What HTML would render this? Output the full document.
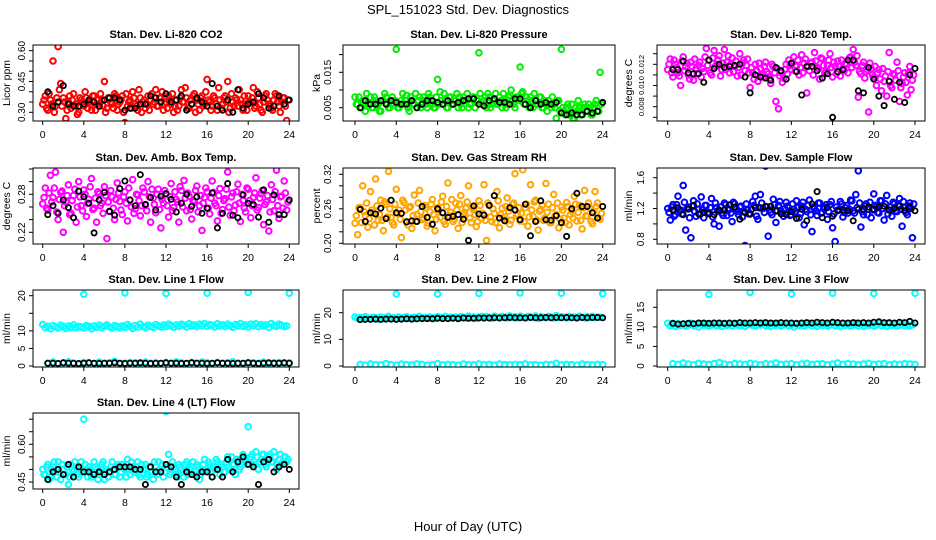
<!DOCTYPE html>
<html><head><meta charset="utf-8">
<style>
html,body{margin:0;padding:0;background:#fff;}
svg{display:block;font-family:"Liberation Sans",Helvetica,Arial,sans-serif;}
</style></head>
<body>
<svg id="chart" width="936" height="540" viewBox="0 0 936 540" xmlns="http://www.w3.org/2000/svg">
<rect x="0" y="0" width="936" height="540" fill="#fff"/>
<text x="468" y="14" text-anchor="middle" font-size="13">SPL_151023  Std. Dev. Diagnostics</text>
<text x="468" y="531" text-anchor="middle" font-size="13">Hour of Day (UTC)</text>
</svg>
<script>
// ---------- data ----------
const co2Colored=[0.34,0.38,0.31,0.36,0.55,0.33,0.62,0.44,0.37,0.27,0.35,0.32,0.39,0.34,0.30,0.36,0.33,0.37,0.35,0.31,0.38,0.34,0.33,0.36,0.45,0.32,0.37,0.34,0.39,0.31,0.35,0.38,0.25,0.33,0.36,0.40,0.34,0.31,0.37,0.35,0.32,0.38,0.36,0.34,0.41,0.33,0.37,0.31,0.35,0.38,0.34,0.30,0.36,0.33,0.41,0.35,0.37,0.32,0.34,0.39,0.36,0.31,0.38,0.34,0.46,0.35,0.33,0.37,0.31,0.36,0.34,0.38,0.45,0.32,0.35,0.37,0.33,0.36,0.31,0.34,0.38,0.35,0.42,0.33,0.37,0.31,0.35,0.39,0.34,0.32,0.36,0.38,0.33,0.35,0.37,0.26];
const co2ColoredB=[0.36,0.32,0.39,0.34,0.30,0.37,0.41,0.33,0.35,0.31,0.38,0.36,0.33,0.29,0.37,0.35,0.40,0.32,0.34,0.38,0.31,0.36,0.39,0.33,0.30,0.37,0.35,0.32,0.38,0.34,0.36,0.30,0.39,0.35,0.32,0.37,0.33,0.41,0.30,0.36,0.34,0.31,0.39,0.35,0.33,0.37,0.40,0.34,0.32,0.36,0.39,0.33,0.31,0.37,0.35,0.42,0.32,0.36,0.38,0.30,0.34,0.37,0.33,0.40,0.36,0.31,0.38,0.34,0.42,0.32,0.37,0.35,0.30,0.39,0.33,0.36,0.41,0.34,0.38,0.31,0.35,0.37,0.32,0.40,0.34,0.30,0.38,0.36,0.33,0.31,0.39,0.35,0.30,0.37,0.33,0.36];
const co2Black=[0.40,0.33,0.35,0.43,0.34,0.33,0.33,0.34,0.36,0.35,0.33,0.36,0.37,0.37,0.36,0.31,0.32,0.32,0.34,0.34,0.38,0.37,0.35,0.39,0.35,0.36,0.38,0.31,0.34,0.37,0.35,0.33,0.44,0.33,0.31,0.36,0.30,0.41,0.32,0.34,0.35,0.39,0.37,0.32,0.33,0.38,0.34,0.36];
const presColored=[0.008,0.006,0.005,0.007,0.004,0.006,0.008,0.005,0.007,0.006,0.004,0.007,0.008,0.005,0.006,0.007,0.0215,0.005,0.007,0.006,0.0085,0.004,0.007,0.006,0.005,0.008,0.006,0.007,0.005,0.008,0.006,0.005,0.013,0.0095,0.006,0.007,0.005,0.008,0.006,0.007,0.005,0.006,0.008,0.007,0.005,0.006,0.008,0.007,0.0205,0.006,0.007,0.005,0.008,0.006,0.007,0.006,0.008,0.005,0.007,0.006,0.0085,0.007,0.005,0.008,0.0165,0.0095,0.006,0.007,0.008,0.005,0.007,0.006,0.008,0.005,0.006,0.007,0.005,0.006,0.002,0.007,0.0215,0.004,0.005,0.003,0.006,0.0015,0.004,0.005,0.003,0.006,0.004,0.005,0.003,0.006,0.004,0.015];
const presColoredB=[0.006,0.008,0.005,0.007,0.009,0.006,0.005,0.008,0.006,0.004,0.007,0.009,0.006,0.005,0.008,0.007,0.005,0.006,0.009,0.007,0.005,0.008,0.006,0.009,0.007,0.005,0.008,0.006,0.009,0.007,0.005,0.008,0.006,0.007,0.009,0.005,0.008,0.006,0.007,0.009,0.008,0.005,0.007,0.009,0.006,0.008,0.005,0.007,0.009,0.006,0.008,0.009,0.005,0.007,0.009,0.006,0.007,0.009,0.005,0.008,0.010,0.006,0.008,0.007,0.009,0.006,0.008,0.005,0.007,0.009,0.006,0.008,0.005,0.007,0.004,0.006,0.008,0.005,0.007,0.004,0.005,0.003,0.006,0.004,0.002,0.005,0.007,0.003,0.005,0.004,0.006,0.003,0.005,0.007,0.004,0.006];
const presBlack=[0.005,0.007,0.006,0.006,0.007,0.006,0.007,0.0065,0.006,0.006,0.007,0.005,0.006,0.007,0.007,0.0065,0.006,0.007,0.006,0.0065,0.007,0.0075,0.0075,0.006,0.0055,0.007,0.0075,0.0065,0.0065,0.006,0.0075,0.0075,0.006,0.005,0.007,0.006,0.0065,0.006,0.0065,0.0035,0.003,0.0035,0.003,0.003,0.004,0.0035,0.004,0.0065];
const tempColored=[0.0115,0.0125,0.0108,0.0120,0.0112,0.0100,0.0127,0.0118,0.0110,0.0122,0.0105,0.0116,0.0119,0.0108,0.0113,0.0135,0.0124,0.0110,0.0133,0.0120,0.0128,0.0115,0.0134,0.0122,0.0112,0.0126,0.0118,0.0109,0.0130,0.0121,0.0114,0.0125,0.0098,0.0112,0.0120,0.0104,0.0116,0.0108,0.0122,0.0111,0.0102,0.0118,0.0085,0.0078,0.0112,0.0107,0.0120,0.0124,0.0115,0.0127,0.0118,0.0110,0.0129,0.0121,0.0093,0.0114,0.0122,0.0131,0.0117,0.0106,0.0125,0.0112,0.0119,0.0130,0.0108,0.0118,0.0123,0.0109,0.0116,0.0121,0.0112,0.0127,0.0134,0.0119,0.0089,0.0111,0.0122,0.0113,0.0075,0.0116,0.0108,0.0100,0.0115,0.0095,0.0104,0.0090,0.0131,0.0098,0.0110,0.0122,0.0085,0.0102,0.0112,0.0091,0.0118,0.0105];
const tempColoredB=[0.0120,0.0112,0.0124,0.0117,0.0109,0.0123,0.0114,0.0121,0.0106,0.0118,0.0125,0.0111,0.0122,0.0116,0.0127,0.0119,0.0112,0.0126,0.0118,0.0124,0.0109,0.0121,0.0115,0.0128,0.0120,0.0113,0.0123,0.0117,0.0110,0.0124,0.0119,0.0112,0.0117,0.0106,0.0114,0.0121,0.0110,0.0118,0.0113,0.0107,0.0120,0.0112,0.0116,0.0109,0.0103,0.0115,0.0111,0.0119,0.0122,0.0114,0.0124,0.0117,0.0112,0.0125,0.0118,0.0121,0.0110,0.0123,0.0116,0.0126,0.0119,0.0113,0.0124,0.0117,0.0122,0.0111,0.0118,0.0124,0.0114,0.0120,0.0126,0.0117,0.0122,0.0128,0.0113,0.0119,0.0107,0.0115,0.0121,0.0110,0.0118,0.0112,0.0106,0.0116,0.0109,0.0113,0.0100,0.0111,0.0105,0.0114,0.0098,0.0108,0.0103,0.0112,0.0096,0.0110];
const tempBlack=[0.0115,0.0115,0.0123,0.0112,0.0111,0.0111,0.0103,0.0124,0.0116,0.0120,0.0117,0.0118,0.0119,0.0120,0.0108,0.0093,0.0110,0.0108,0.0107,0.0105,0.0117,0.0114,0.0106,0.0121,0.0113,0.0091,0.0118,0.0118,0.0114,0.0107,0.0111,0.0070,0.0113,0.0115,0.0124,0.0124,0.0095,0.0093,0.0117,0.0106,0.0090,0.0081,0.0104,0.0087,0.0103,0.0084,0.0110,0.0116];
const ambColored=[0.265,0.290,0.255,0.310,0.275,0.315,0.240,0.283,0.220,0.268,0.295,0.250,0.278,0.236,0.300,0.262,0.287,0.245,0.272,0.305,0.258,0.236,0.281,0.266,0.292,0.210,0.253,0.276,0.240,0.298,0.269,0.248,0.284,0.238,0.271,0.303,0.257,0.279,0.246,0.290,0.263,0.300,0.236,0.274,0.251,0.288,0.227,0.266,0.281,0.244,0.297,0.259,0.272,0.236,0.286,0.302,0.254,0.277,0.241,0.268,0.293,0.262,0.223,0.275,0.284,0.249,0.301,0.266,0.238,0.289,0.256,0.273,0.315,0.247,0.282,0.263,0.296,0.237,0.270,0.252,0.288,0.243,0.275,0.306,0.259,0.281,0.232,0.268,0.222,0.295,0.254,0.318,0.242,0.277,0.301,0.255];
const ambColoredB=[0.275,0.258,0.282,0.268,0.290,0.252,0.272,0.285,0.262,0.278,0.248,0.270,0.288,0.260,0.276,0.254,0.280,0.266,0.292,0.256,0.274,0.284,0.262,0.250,0.278,0.268,0.286,0.258,0.272,0.282,0.255,0.276,0.266,0.290,0.260,0.250,0.280,0.270,0.262,0.284,0.254,0.276,0.288,0.264,0.280,0.256,0.272,0.286,0.262,0.276,0.254,0.284,0.268,0.292,0.260,0.274,0.282,0.256,0.270,0.286,0.252,0.278,0.266,0.290,0.258,0.274,0.283,0.262,0.278,0.250,0.270,0.288,0.260,0.276,0.254,0.284,0.266,0.280,0.258,0.290,0.270,0.262,0.282,0.255,0.274,0.286,0.264,0.278,0.252,0.272,0.284,0.262,0.276,0.258,0.282,0.268];
const ambBlack=[0.248,0.262,0.250,0.271,0.259,0.243,0.285,0.276,0.266,0.219,0.271,0.283,0.253,0.247,0.289,0.301,0.271,0.262,0.311,0.264,0.275,0.255,0.277,0.281,0.272,0.252,0.266,0.280,0.261,0.276,0.250,0.258,0.282,0.227,0.250,0.297,0.247,0.243,0.279,0.266,0.264,0.244,0.287,0.236,0.279,0.248,0.248,0.271];
const rhColored=[0.235,0.215,0.262,0.300,0.248,0.228,0.290,0.253,0.312,0.240,0.275,0.222,0.268,0.325,0.245,0.232,0.294,0.258,0.210,0.271,0.238,0.262,0.226,0.284,0.250,0.292,0.241,0.266,0.230,0.255,0.276,0.222,0.262,0.245,0.282,0.233,0.305,0.254,0.238,0.270,0.226,0.283,0.249,0.261,0.300,0.236,0.258,0.229,0.274,0.243,0.302,0.205,0.266,0.238,0.252,0.290,0.227,0.261,0.246,0.279,0.233,0.268,0.321,0.251,0.239,0.328,0.262,0.230,0.302,0.247,0.275,0.223,0.259,0.240,0.304,0.268,0.236,0.285,0.250,0.227,0.263,0.244,0.271,0.232,0.256,0.282,0.239,0.266,0.225,0.292,0.247,0.261,0.234,0.290,0.270,0.242];
const rhColoredB=[0.248,0.262,0.236,0.255,0.270,0.243,0.258,0.232,0.265,0.250,0.240,0.272,0.246,0.260,0.236,0.268,0.252,0.242,0.275,0.258,0.232,0.264,0.248,0.238,0.270,0.255,0.244,0.262,0.235,0.268,0.250,0.242,0.258,0.272,0.238,0.264,0.248,0.276,0.242,0.258,0.268,0.236,0.254,0.272,0.244,0.262,0.250,0.238,0.266,0.252,0.240,0.270,0.246,0.260,0.236,0.274,0.250,0.242,0.264,0.256,0.240,0.270,0.248,0.262,0.252,0.238,0.268,0.246,0.258,0.272,0.240,0.256,0.266,0.244,0.254,0.236,0.262,0.248,0.270,0.242,0.258,0.236,0.264,0.250,0.244,0.268,0.254,0.240,0.262,0.248,0.270,0.238,0.256,0.264,0.244,0.252];
const rhBlack=[0.259,0.238,0.253,0.251,0.261,0.243,0.275,0.253,0.252,0.237,0.239,0.238,0.264,0.245,0.233,0.260,0.253,0.245,0.247,0.250,0.242,0.205,0.265,0.251,0.249,0.266,0.283,0.244,0.239,0.262,0.258,0.241,0.268,0.213,0.238,0.274,0.241,0.240,0.248,0.236,0.212,0.260,0.287,0.264,0.264,0.253,0.244,0.264];
const sampleColored=[1.20,1.05,1.25,1.12,1.36,1.18,1.50,0.92,1.22,0.82,1.30,1.10,1.19,1.35,1.08,1.24,1.15,1.33,1.00,1.21,0.97,1.14,1.27,1.11,1.19,1.03,1.26,1.16,1.22,1.09,0.72,1.18,1.13,1.29,1.36,1.06,1.38,1.20,1.75,0.84,1.15,1.32,1.02,1.24,1.17,1.10,1.28,1.21,1.12,1.19,1.30,1.08,1.23,0.99,1.16,1.31,0.90,1.20,1.11,1.27,1.15,1.22,1.06,1.25,0.95,0.77,1.18,1.29,1.09,1.21,1.14,1.31,1.17,1.38,1.69,0.96,1.12,1.26,1.19,1.08,1.39,1.22,1.14,1.30,1.05,1.37,1.18,1.10,1.26,1.16,1.33,0.97,1.21,1.12,1.27,0.82];
const sampleColoredB=[1.15,1.22,1.10,1.25,1.18,1.13,1.28,1.20,1.08,1.23,1.16,1.26,1.12,1.19,1.24,1.14,1.21,1.09,1.27,1.17,1.22,1.11,1.25,1.18,1.14,1.28,1.20,1.12,1.23,1.16,1.26,1.13,1.19,1.24,1.10,1.21,1.27,1.15,1.22,1.18,1.12,1.25,1.17,1.29,1.14,1.20,1.23,1.11,1.26,1.16,1.21,1.13,1.28,1.19,1.24,1.12,1.22,1.17,1.27,1.14,1.20,1.25,1.16,1.29,1.13,1.22,1.18,1.26,1.15,1.24,1.19,1.30,1.14,1.21,1.27,1.16,1.23,1.12,1.28,1.18,1.24,1.15,1.30,1.20,1.26,1.13,1.22,1.28,1.17,1.24,1.19,1.29,1.15,1.23,1.20,1.26];
const sampleBlack=[1.18,1.21,1.12,1.19,1.24,1.13,1.15,1.13,1.12,1.18,1.18,1.25,1.22,1.06,1.15,1.13,1.21,1.21,1.23,1.23,1.17,1.13,1.12,1.16,1.07,1.19,1.04,1.26,1.42,1.08,1.21,1.10,1.17,1.18,1.17,1.04,1.19,1.19,1.22,1.19,1.22,1.23,1.18,1.20,1.23,1.17,1.22,1.17];
const line1High=[11.8,10.9,11.3,10.6,11.5,11.1,10.8,11.6,11.2,10.7,11.4,11.0,11.7,10.9,11.3,11.1,10.8,11.5,11.2,10.6,11.4,11.0,11.6,10.9,11.3,11.7,11.1,10.8,11.5,11.2,10.9,11.4,11.0,11.8,11.3,10.7,11.5,11.1,11.9,11.2,10.9,11.6,11.3,11.0,11.8,11.4,11.1,11.7,11.2,11.9,11.5,11.0,11.7,11.3,11.9,11.6,11.1,12.0,11.4,11.7,11.2,11.9,11.5,12.1,11.3,11.8,11.6,11.1,12.0,11.4,11.7,11.2,11.9,11.5,11.0,11.8,11.4,12.1,11.3,11.7,11.1,11.9,11.5,12.0,11.2,11.8,11.4,11.7,11.0,12.1,11.5,11.3,11.9,11.6,11.2,11.4];
const line1Low=[0.8,1.1,0.7,0.9,1.2,0.8,0.6,1.0,0.9,0.7,1.1,0.8,0.9,1.3,0.7,0.8,1.0,0.9,0.6,1.1,0.8,0.9,0.7,1.0,0.8,1.2,0.9,0.7,1.0,0.8,1.1,0.9,0.7,1.0,0.8,0.9,1.2,0.8,0.7,1.0,0.9,0.8,1.1,0.7,0.9,1.0,0.8,0.9];
const line1Black=[0.8,0.8,0.7,0.9,0.8,0.8,0.7,0.8,0.9,0.8,0.7,0.8,0.8,0.9,0.8,0.7,0.8,0.8,0.9,0.8,0.7,0.8,0.8,0.9,0.8,0.8,0.7,0.8,0.9,0.8,0.8,0.7,0.8,0.9,0.8,0.8,0.7,0.8,0.8,0.9,0.8,0.7,0.8,0.9,0.8,0.8,0.9,0.8];
const line2High=[18.4,17.9,18.2,17.7,18.5,18.0,17.8,18.3,18.1,17.6,18.4,17.9,18.2,18.6,17.8,18.1,18.0,18.4,17.7,18.2,18.5,17.9,18.1,18.3,17.8,18.6,18.0,18.2,17.9,18.4,18.1,17.8,18.5,18.2,18.0,18.6,17.9,18.3,18.1,18.4,17.8,18.5,18.2,18.0,18.7,18.1,18.4,17.9,18.3,18.6,18.0,18.5,18.2,17.9,18.7,18.3,18.1,18.6,18.4,18.0,18.8,18.2,18.5,18.1,18.7,18.3,18.0,18.6,18.4,18.2,18.8,17.9,18.5,18.3,18.1,18.6,18.4,18.0,18.9,18.2,18.5,18.3,18.0,18.6,18.2,18.4,18.1,18.7,18.3,18.0,18.5,18.2,18.6,18.1,18.4,18.3];
const line2Low=[0.6,0.3,0.8,0.5,0.4,0.9,0.5,0.3,0.7,0.5,0.4,0.8,0.6,0.3,0.5,0.9,0.4,0.6,0.5,0.3,0.7,0.5,0.4,0.8,0.5,0.6,0.3,0.7,0.5,0.4,0.6,0.5,0.8,0.4,0.5,0.3,0.6,0.5,1.0,0.4,0.6,0.5,0.3,0.7,0.5,0.4,0.6,0.5];
const line2Black=[17.4,17.5,17.5,17.6,17.5,17.6,17.6,17.5,17.6,17.7,17.6,17.7,17.8,17.8,17.7,17.9,17.8,17.8,17.9,17.8,18.0,17.9,17.9,18.0,18.0,18.0,18.1,18.0,18.1,18.2,18.1,18.1,18.0,18.2,18.1,18.1,18.2,18.1,18.2,18.1,18.2,18.1,18.0,18.2,18.1,18.2,18.2,18.1];
const line3High=[10.9,10.3,10.6,10.1,10.8,10.4,10.7,10.2,10.5,10.9,10.3,10.6,10.0,10.8,10.4,10.7,10.2,10.5,10.9,10.3,10.6,10.1,10.8,10.4,10.6,10.2,10.9,10.5,10.3,10.7,10.1,10.6,10.8,10.4,10.2,10.7,10.5,10.9,10.3,10.6,10.1,10.8,10.4,10.7,10.2,10.5,10.9,10.3,10.6,10.0,10.8,10.4,10.7,10.2,10.5,10.9,10.3,10.6,10.1,10.8,10.4,10.7,10.2,10.5,10.9,10.3,10.6,10.1,10.8,10.4,10.7,10.2,10.5,11.0,10.3,10.6,10.1,10.8,10.4,10.7,10.2,10.5,10.9,10.3,10.6,10.1,10.8,10.4,10.7,10.2,10.5,10.9,10.3,10.6,10.2,10.5];
const line3Low=[0.6,0.4,0.8,0.5,0.3,0.7,0.5,0.4,0.6,0.9,0.5,0.3,0.6,0.5,0.4,0.7,0.5,0.3,0.6,0.5,0.8,0.4,0.5,0.6,0.3,0.5,0.7,0.4,0.5,0.6,0.3,0.5,0.8,0.4,0.6,0.5,0.3,0.5,0.7,0.4,0.5,0.6,0.3,0.5,0.4,0.6,0.5,0.4];
const line3Black=[10.9,10.7,10.8,10.9,10.8,11.0,11.0,10.9,11.0,11.0,10.9,11.0,10.9,11.1,11.0,11.0,11.1,11.0,11.1,11.0,11.0,11.1,11.0,11.0,10.9,11.0,11.1,11.0,11.2,11.1,11.0,11.2,11.1,11.0,11.0,11.1,11.0,11.1,11.0,11.2,11.3,11.1,11.1,11.0,11.2,11.1,11.4,11.0];
const line4Colored=[0.50,0.48,0.52,0.47,0.51,0.49,0.53,0.46,0.50,0.48,0.44,0.52,0.49,0.51,0.47,0.53,0.70,0.49,0.51,0.47,0.53,0.50,0.48,0.52,0.46,0.50,0.49,0.53,0.48,0.51,0.47,0.52,0.50,0.54,0.48,0.51,0.49,0.53,0.47,0.50,0.52,0.48,0.51,0.46,0.49,0.53,0.50,0.47,0.73,0.56,0.49,0.51,0.48,0.52,0.50,0.47,0.53,0.49,0.51,0.48,0.52,0.46,0.50,0.54,0.49,0.52,0.47,0.50,0.53,0.48,0.51,0.49,0.55,0.50,0.52,0.48,0.54,0.51,0.56,0.53,0.67,0.55,0.52,0.57,0.50,0.54,0.56,0.51,0.55,0.53,0.57,0.50,0.54,0.52,0.55,0.53];
const line4ColoredB=[0.48,0.51,0.46,0.50,0.53,0.47,0.49,0.52,0.48,0.51,0.47,0.50,0.53,0.48,0.51,0.49,0.52,0.47,0.50,0.48,0.51,0.46,0.50,0.53,0.49,0.47,0.51,0.50,0.48,0.52,0.49,0.51,0.47,0.50,0.53,0.49,0.51,0.48,0.52,0.50,0.47,0.51,0.49,0.53,0.48,0.50,0.52,0.49,0.51,0.48,0.53,0.50,0.47,0.51,0.49,0.52,0.48,0.50,0.53,0.49,0.51,0.48,0.52,0.50,0.53,0.49,0.51,0.54,0.50,0.52,0.49,0.53,0.51,0.55,0.52,0.54,0.50,0.53,0.55,0.52,0.54,0.56,0.52,0.55,0.53,0.56,0.52,0.54,0.56,0.53,0.55,0.52,0.56,0.53,0.55,0.54];
const line4Black=[0.46,0.49,0.50,0.48,0.52,0.47,0.51,0.49,0.49,0.48,0.49,0.48,0.49,0.50,0.51,0.51,0.51,0.50,0.50,0.44,0.51,0.49,0.49,0.52,0.51,0.47,0.44,0.49,0.48,0.47,0.49,0.49,0.47,0.50,0.47,0.54,0.49,0.53,0.55,0.52,0.51,0.44,0.53,0.54,0.49,0.51,0.52,0.50];
const outlierHours=[4,8,12,16,20,24];
const line1Outliers=[20.4,20.8,20.6,20.7,20.9,20.7];
const line2Outliers=[27.0,27.0,27.2,27.4,27.3,27.1];
const line3Outliers=[18.3,18.8,18.4,18.6,18.5,18.6];
const xTicks=[0,4,8,12,16,20,24];
const co2Ticks=[0.30,0.35,0.40,0.45,0.50,0.55,0.60], co2Labels=["0.30","0.45","0.60"];
const presTicks=[0.005,0.010,0.015,0.020], presLabels=["0.005","0.015"];
const tempTicks=[0.007,0.008,0.009,0.010,0.011,0.012,0.013], tempLabels=["0.008","0.010","0.012"];
const ambTicks=[0.22,0.24,0.26,0.28,0.30,0.32], ambLabels=["0.22","0.28"];
const rhTicks=[0.20,0.22,0.24,0.26,0.28,0.30,0.32], rhLabels=["0.20","0.26","0.32"];
const sampleTicks=[0.8,1.0,1.2,1.4,1.6], sampleLabels=["0.8","1.2","1.6"];
const line1Ticks=[0,5,10,15,20], line1Labels=["0","5","10","20"];
const line2Ticks=[0,10,20], line2Labels=["0","10","20"];
const line3Ticks=[0,5,10,15], line3Labels=["0","5","10","15"];
const line4Ticks=[0.45,0.50,0.55,0.60,0.65,0.70], line4Labels=["0.45","0.60"];

// ---------- drawing ----------
const NS="http://www.w3.org/2000/svg";
const svg=document.getElementById('chart');
function mk(tag,attrs,parent){const e=document.createElementNS(NS,tag);for(const k in attrs)e.setAttribute(k,attrs[k]);(parent||svg).appendChild(e);return e;}
const hours96=[];for(let i=0;i<96;i++)hours96.push(i*0.25);
const hours96B=[];for(let i=0;i<96;i++)hours96B.push(i*0.25+0.125);
const hours48=[];for(let i=0;i<48;i++)hours48.push(0.5+i*0.5);

const cols=[{bx0:33,bx1:299,h0:42.7,h24:289.3,lab:25,ylab:10},
            {bx0:343,bx1:615,h0:355,h24:602.7,lab:331,ylab:320},
            {bx0:657,bx1:925,h0:667.7,h24:915,lab:644,ylab:632}];
const rows=[{top:45,bot:121},{top:168,bot:244},{top:290,bot:367},{top:413,bot:489}];

function panel(name,title,ylab,col,row,v1,p1,v2,p2,ticks,labels,series,lfs){
  const c=cols[col], r=rows[row];
  const g=mk('g',{});
  
  
  const sx=h=>c.h0+(c.h24-c.h0)*h/24;
  const sy=v=>p1+(p2-p1)*(v-v1)/(v2-v1);
  const cp='clip-'+name;
  const cl=mk('clipPath',{id:cp},g);mk('rect',{x:c.bx0,y:r.top,width:c.bx1-c.bx0,height:r.bot-r.top},cl);
  const pts=mk('g',{'clip-path':'url(#'+cp+')'},g);
  series.forEach(s=>{
    const sg=mk('g',{},pts);
    
    
    const col=s.color===BK;
    s.ys.forEach((v,i)=>{
      const ci=mk('circle',{cx:sx(s.xs[i]).toFixed(1),cy:sy(v).toFixed(1),r:col?2.6:2.8,fill:'none',stroke:s.color,'stroke-width':col?1.8:2.0},sg);
      
      
    });
  });
  const box=mk('rect',{x:c.bx0,y:r.top,width:c.bx1-c.bx0,height:r.bot-r.top,fill:'none',stroke:'#000','stroke-width':1},g);
  
  
  const t=mk('text',{x:(c.bx0+c.bx1)/2,y:r.top-7,'text-anchor':'middle','font-size':11,'font-weight':'bold'},g);
  t.textContent=title;
  
  
  const xa=mk('g',{},g);
  
  
  mk('line',{x1:sx(xTicks[0]),x2:sx(xTicks[xTicks.length-1]),y1:r.bot,y2:r.bot,stroke:'#000'},xa);
  xTicks.forEach(h=>{
    mk('line',{x1:sx(h),x2:sx(h),y1:r.bot,y2:r.bot+4,stroke:'#000'},xa);
    const tl=mk('text',{x:sx(h),y:r.bot+17,'text-anchor':'middle','font-size':10.5},xa);
    tl.textContent=h;
    
    
  });
  const ya=mk('g',{},g);
  
  
  const yA=sy(ticks[0]),yB=sy(ticks[ticks.length-1]);
  mk('line',{x1:c.bx0,x2:c.bx0,y1:yA,y2:yB,stroke:'#000'},ya);
  ticks.forEach(v=>{mk('line',{x1:c.bx0-4,x2:c.bx0,y1:sy(v),y2:sy(v),stroke:'#000'},ya);});
  labels.forEach(l=>{
    const yy=sy(parseFloat(l));
    const tl=mk('text',{x:c.lab,y:yy,'text-anchor':'middle','font-size':lfs||10,transform:'rotate(-90 '+c.lab+' '+yy+')'},ya);
    tl.textContent=l;
    
    
  });
  const ym=(r.top+r.bot)/2;
  const yl=mk('text',{x:c.ylab,y:ym,'text-anchor':'middle','font-size':10.5,transform:'rotate(-90 '+c.ylab+' '+ym+')'},g);
  yl.textContent=ylab;
  
  
}
const BK='#000';
panel('co2','Stan. Dev. Li-820 CO2','Licor ppm',0,0,0.30,112.3,0.60,50.7,co2Ticks,co2Labels,
 [{key:'colored',xs:hours96,ys:co2Colored,color:'#ff0000'},{key:'colored-b',xs:hours96B,ys:co2ColoredB,color:'#ff0000'},{key:'black',xs:hours48,ys:co2Black,color:BK}]);
panel('pressure','Stan. Dev. Li-820 Pressure','kPa',1,0,0.005,107.7,0.015,72.3,presTicks,presLabels,
 [{key:'colored',xs:hours96,ys:presColored,color:'#00ee00'},{key:'colored-b',xs:hours96B,ys:presColoredB,color:'#00ee00'},{key:'black',xs:hours48,ys:presBlack,color:BK}]);
panel('li820-temp','Stan. Dev. Li-820 Temp.','degrees C',2,0,0.008,106.7,0.012,64.3,tempTicks,tempLabels,
 [{key:'colored',xs:hours96,ys:tempColored,color:'#ff00ff'},{key:'colored-b',xs:hours96B,ys:tempColoredB,color:'#ff00ff'},{key:'black',xs:hours48,ys:tempBlack,color:BK}],7.5);
panel('amb-box-temp','Stan. Dev. Amb. Box Temp.','degrees C',0,1,0.22,232.3,0.28,194.3,ambTicks,ambLabels,
 [{key:'colored',xs:hours96,ys:ambColored,color:'#ff00ff'},{key:'colored-b',xs:hours96B,ys:ambColoredB,color:'#ff00ff'},{key:'black',xs:hours48,ys:ambBlack,color:BK}]);
panel('gas-rh','Stan. Dev. Gas Stream RH','percent',1,1,0.20,243.3,0.32,174.3,rhTicks,rhLabels,
 [{key:'colored',xs:hours96,ys:rhColored,color:'#ffa500'},{key:'colored-b',xs:hours96B,ys:rhColoredB,color:'#ffa500'},{key:'black',xs:hours48,ys:rhBlack,color:BK}]);
panel('sample-flow','Stan. Dev. Sample Flow','ml/min',2,1,0.8,239.3,1.6,177.7,sampleTicks,sampleLabels,
 [{key:'colored',xs:hours96,ys:sampleColored,color:'#0000ff'},{key:'colored-b',xs:hours96B,ys:sampleColoredB,color:'#0000ff'},{key:'black',xs:hours48,ys:sampleBlack,color:BK}]);
panel('line1-flow','Stan. Dev. Line 1 Flow','ml/min',0,2,0,366,20,295.7,line1Ticks,line1Labels,
 [{key:'high',xs:hours96,ys:line1High,color:'#00ffff'},{key:'low',xs:hours48,ys:line1Low,color:'#00ffff'},{key:'outlier',xs:outlierHours,ys:line1Outliers,color:'#00ffff'},{key:'black',xs:hours48,ys:line1Black,color:BK}]);
panel('line2-flow','Stan. Dev. Line 2 Flow','ml/min',1,2,0,366,20,312.7,line2Ticks,line2Labels,
 [{key:'high',xs:hours96,ys:line2High,color:'#00ffff'},{key:'low',xs:hours48,ys:line2Low,color:'#00ffff'},{key:'outlier',xs:outlierHours,ys:line2Outliers,color:'#00ffff'},{key:'black',xs:hours48,ys:line2Black,color:BK}]);
panel('line3-flow','Stan. Dev. Line 3 Flow','ml/min',2,2,0,366,15,307.3,line3Ticks,line3Labels,
 [{key:'high',xs:hours96,ys:line3High,color:'#00ffff'},{key:'low',xs:hours48,ys:line3Low,color:'#00ffff'},{key:'outlier',xs:outlierHours,ys:line3Outliers,color:'#00ffff'},{key:'black',xs:hours48,ys:line3Black,color:BK}]);
panel('line4-flow','Stan. Dev. Line 4 (LT) Flow','ml/min',0,3,0.45,482,0.60,444.3,line4Ticks,line4Labels,
 [{key:'colored',xs:hours96,ys:line4Colored,color:'#00ffff'},{key:'colored-b',xs:hours96B,ys:line4ColoredB,color:'#00ffff'},{key:'black',xs:hours48,ys:line4Black,color:BK}]);
</script>
</body></html>
